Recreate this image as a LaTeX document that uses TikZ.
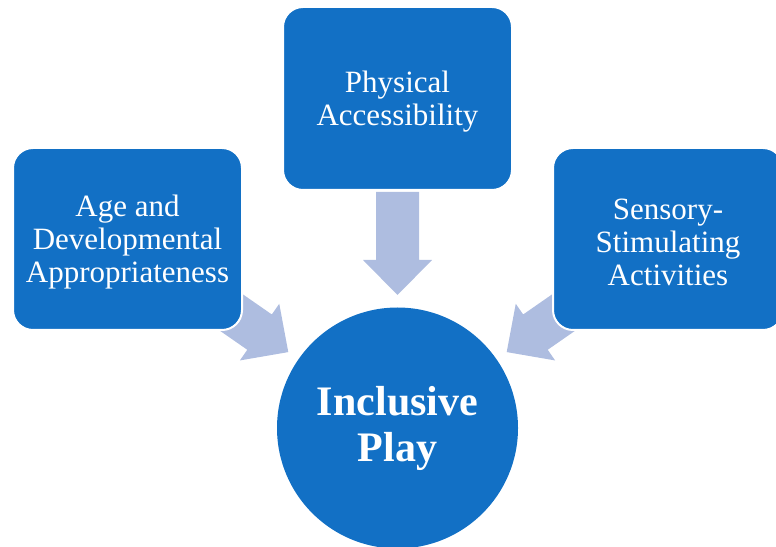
\documentclass[tikz,border=0pt]{standalone}
\usepackage{fontspec}
\setmainfont{Liberation Serif}
\definecolor{boxblue}{RGB}{18,112,197}
\definecolor{arrowblue}{RGB}{174,189,224}
\newcommand{\lowerstrut}{\rule{0pt}{28pt}}
\tikzset{
  boxnode/.style={draw=white, line width=2pt, fill=boxblue, rounded corners=20pt,
    text=white, align=center, inner sep=0pt, minimum width=229pt, minimum height=182pt,
    font=\fontsize{31}{33}\selectfont},
  hubnode/.style={circle, fill=boxblue, text=white, align=center, inner sep=0pt,
    minimum size=241pt, font=\bfseries\fontsize{42}{46}\selectfont},
  blockarrow/.style={fill=arrowblue}
}
\begin{document}
\begin{tikzpicture}[x=1pt,y=1pt]
\useasboundingbox (0,0) rectangle (776,546);
\node[hubnode] (hub) at (397.5,118) {Inclusive\\Play};
% block arrows pointing to the hub
\foreach \ang in {90,145.2,34.8}{
  \begin{scope}[shift={(hub.center)}, rotate=\ang]
    \fill[blockarrow] (236,21.5) -- (168,21.5) -- (168,34.5) -- (133,0)
      -- (168,-34.5) -- (168,-21.5) -- (236,-21.5) -- cycle;
  \end{scope}
}
\node[boxnode, minimum height=183pt] (top) at (397.5,447.5) {\lowerstrut Physical\\Accessibility};
\node[boxnode] (left) at (127.5,307) {\lowerstrut Age and\\Developmental\\Appropriateness};
\node[boxnode, minimum width=230pt] (right) at (668,307) {\lowerstrut Sensory-\\Stimulating\\Activities};
\end{tikzpicture}
\end{document}
